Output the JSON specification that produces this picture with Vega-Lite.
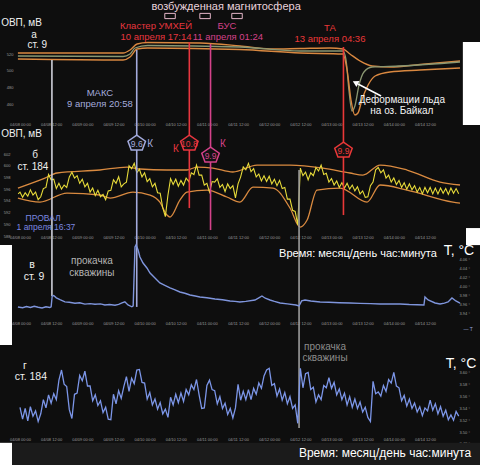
{
  "$schema": "https://vega.github.io/schema/vega-lite/v6.json",
  "width": 480,
  "height": 465,
  "autosize": {"type": "none"},
  "padding": 0,
  "background": "#0e0e0e",
  "config": {
    "view": {"stroke": null},
    "axis": {"domain": false, "ticks": false, "grid": false, "labelFontSize": 4, "labelColor": "#9c9c9c", "labelPadding": 1, "labelFont": "Liberation Sans", "labelOverlap": false, "labelFlush": false, "labelBound": false},
    "text": {"font": "Liberation Sans", "baseline": "middle", "align": "center"}
  },
  "datasets": {
    "aPage": [{"h":170.6,"h2":177.2,"v":534.4,"v2":434.8}],
    "bPage": [{"h":171.8,"h2":177.2,"v":589.36,"v2":586.45}],
    "cPage": [{"h":-7.7,"h2":-3.08,"v":4.0934,"v2":3.8712}],
    "dPage": [{"h":-7.7,"h2":-3.08,"v":3.482,"v2":3.4445}],
    "dBand": [{"h":-3.08,"h2":177.2,"v":3.482,"v2":3.4445}],
    "aUp": [{"h":-0.8,"v":521.2},{"h":39.7,"v":521.2},{"h":42.4,"v":524.8},{"h":45.1,"v":532.0},{"h":49.2,"v":533.8},{"h":69.3,"v":533.2},{"h":84.7,"v":529.6},{"h":96.3,"v":526.0},{"h":107.9,"v":526.6},{"h":119.4,"v":527.2},{"h":124.4,"v":526.0},{"h":127.1,"v":520.0},{"h":131.0,"v":511.6},{"h":135.6,"v":505.6},{"h":142.5,"v":504.4},{"h":154.1,"v":507.4},{"h":169.5,"v":511.6}],
    "aMid": [{"h":-0.8,"v":517.6},{"h":39.7,"v":517.0},{"h":42.4,"v":520.0},{"h":44.3,"v":527.2},{"h":49.2,"v":530.2},{"h":84.7,"v":528.4},{"h":107.9,"v":523.6},{"h":124.4,"v":523.6},{"h":125.6,"v":512.8},{"h":126.7,"v":476.8},{"h":127.9,"v":451.6},{"h":129.0,"v":457.6},{"h":130.6,"v":482.8},{"h":132.5,"v":498.4},{"h":135.6,"v":504.4},{"h":146.4,"v":505.6},{"h":169.5,"v":510.4}],
    "aLow": [{"h":-0.8,"v":514.0},{"h":39.7,"v":512.8},{"h":42.4,"v":516.4},{"h":45.1,"v":526.0},{"h":49.2,"v":527.2},{"h":84.7,"v":525.4},{"h":107.9,"v":521.2},{"h":124.4,"v":520.0},{"h":126.0,"v":500.8},{"h":127.5,"v":464.8},{"h":129.0,"v":446.8},{"h":130.2,"v":449.2},{"h":131.7,"v":464.8},{"h":134.1,"v":482.8},{"h":136.8,"v":493.6},{"h":142.5,"v":498.4},{"h":154.1,"v":500.8},{"h":169.5,"v":503.2}],
    "aEv": [{"ev":"ПРОВАЛ","h":12.3,"v":512.8,"v2":434.8},{"ev":"МАКС","h":44.97,"v":524.8,"v2":434.8},{"ev":"Кластер УМХЕЙ","h":65.23,"v":534.4,"v2":434.8},{"ev":"БУС","h":73.4,"v":532.0,"v2":434.8},{"ev":"ТА","h":124.6,"v":528.4,"v2":434.8}],
    "aBox": [{"h":57.8,"v":565.6},{"h":71.3,"v":565.6},{"h":83.6,"v":565.6}],
    "aArrow": [{"h":139.1,"v":469.6,"h2":130.2,"v2":484.0}],
    "aHead": [{"h":129.2,"v":485.6}],
    "aTx": [
      {"ev":"panel","t":"ОВП, мВ","h":0.6,"v":557.4},
      {"ev":"panel","t":"а","h":5.4,"v":542.8},
      {"ev":"panel","t":"ст. 9","h":6.7,"v":531.0},
      {"ev":"магнитосфера","t":"возбужденная магнитосфера","h":79.4,"v":576.4},
      {"ev":"Кластер УМХЕЙ","t":"Кластер УМХЕЙ","h":52.4,"v":554.2},
      {"ev":"Кластер УМХЕЙ","t":"10 апреля 17:14","h":52.4,"v":541.0},
      {"ev":"БУС","t":"БУС","h":79.7,"v":554.2},
      {"ev":"БУС","t":"11 апреля 01:24","h":80.1,"v":541.0},
      {"ev":"ТА","t":"ТА","h":119.4,"v":551.8},
      {"ev":"ТА","t":"13 апреля 04:36","h":119.4,"v":538.6},
      {"ev":"МАКС","t":"МАКС","h":30.8,"v":473.8},
      {"ev":"МАКС","t":"9 апреля 20:58","h":30.8,"v":460.6},
      {"ev":"лёд","t":"Деформации льда","h":147.1,"v":465.4},
      {"ev":"лёд","t":"на оз. Байкал","h":147.1,"v":452.2}
    ],
    "bY": [{"h":-0.7,"v":595.2},{"h":0,"v":595.5},{"h":1,"v":594.6},{"h":2,"v":595.4},{"h":3,"v":594.8},{"h":4,"v":595.9},{"h":5,"v":595.0},{"h":6,"v":595.5},{"h":7,"v":594.2},{"h":8,"v":594.7},{"h":9,"v":596.1},{"h":10,"v":596.3},{"h":11,"v":598.5},{"h":12,"v":597.6},{"h":13,"v":597.7},{"h":14,"v":596.1},{"h":15,"v":597.0},{"h":16,"v":596.0},{"h":17,"v":596.7},{"h":18,"v":596.3},{"h":19,"v":598.1},{"h":20,"v":598.9},{"h":21,"v":597.9},{"h":22,"v":598.3},{"h":23,"v":597.0},{"h":24,"v":597.7},{"h":25,"v":596.4},{"h":26,"v":597.0},{"h":27,"v":595.5},{"h":28,"v":596.2},{"h":29,"v":594.9},{"h":30,"v":595.8},{"h":31,"v":594.7},{"h":32,"v":595.1},{"h":33,"v":594.2},{"h":34,"v":595.7},{"h":35,"v":595.8},{"h":36,"v":597.6},{"h":37,"v":597.0},{"h":38,"v":598.1},{"h":39,"v":596.4},{"h":40,"v":596.9},{"h":41,"v":597.2},{"h":42,"v":600.0},{"h":43,"v":599.5},{"h":44,"v":600.4},{"h":45,"v":598.8},{"h":46,"v":599.4},{"h":47,"v":598.1},{"h":48,"v":598.8},{"h":49,"v":597.3},{"h":50,"v":597.8},{"h":51,"v":596.4},{"h":52,"v":597.0},{"h":53,"v":595.4},{"h":54,"v":595.3},{"h":55,"v":592.8},{"h":56,"v":591.3},{"h":57,"v":595.0},{"h":58,"v":597.8},{"h":59,"v":596.8},{"h":60,"v":597.7},{"h":61,"v":596.5},{"h":62,"v":597.5},{"h":63,"v":596.7},{"h":64,"v":597.9},{"h":65,"v":597.3},{"h":66,"v":598.8},{"h":67,"v":598.5},{"h":68,"v":600.1},{"h":69,"v":598.4},{"h":70,"v":598.4},{"h":71,"v":596.7},{"h":72,"v":597.0},{"h":73,"v":595.5},{"h":74,"v":597.3},{"h":75,"v":597.2},{"h":76,"v":597.8},{"h":77,"v":596.3},{"h":78,"v":596.8},{"h":79,"v":595.6},{"h":80,"v":596.9},{"h":81,"v":596.1},{"h":82,"v":596.6},{"h":83,"v":594.5},{"h":84,"v":596.9},{"h":85,"v":598.1},{"h":86,"v":599.8},{"h":87,"v":599.3},{"h":88,"v":600.4},{"h":89,"v":599.0},{"h":90,"v":599.5},{"h":91,"v":598.1},{"h":92,"v":598.6},{"h":93,"v":597.4},{"h":94,"v":598.3},{"h":95,"v":597.3},{"h":96,"v":598.2},{"h":97,"v":596.9},{"h":98,"v":597.7},{"h":99,"v":596.6},{"h":100,"v":597.5},{"h":101,"v":596.1},{"h":102,"v":596.3},{"h":103,"v":594.3},{"h":104,"v":594.3},{"h":105,"v":592.4},{"h":106,"v":592.2},{"h":107,"v":589.9},{"h":108,"v":599.6},{"h":109,"v":598.3},{"h":110,"v":598.9},{"h":111,"v":597.6},{"h":112,"v":598.8},{"h":113,"v":598.3},{"h":114,"v":599.7},{"h":115,"v":599.1},{"h":116,"v":600.1},{"h":117,"v":598.5},{"h":118,"v":598.7},{"h":119,"v":597.2},{"h":120,"v":597.8},{"h":121,"v":596.7},{"h":122,"v":597.4},{"h":123,"v":596.3},{"h":124,"v":597.1},{"h":125,"v":596.2},{"h":126,"v":597.0},{"h":127,"v":596.0},{"h":128,"v":596.7},{"h":129,"v":595.7},{"h":130,"v":596.4},{"h":131,"v":595.2},{"h":132,"v":595.7},{"h":133,"v":594.6},{"h":134,"v":594.7},{"h":135,"v":596.6},{"h":136,"v":597.2},{"h":137,"v":599.3},{"h":138,"v":599.7},{"h":139,"v":598.8},{"h":140,"v":599.3},{"h":141,"v":597.9},{"h":142,"v":598.4},{"h":143,"v":597.2},{"h":144,"v":597.9},{"h":145,"v":596.8},{"h":146,"v":597.5},{"h":147,"v":596.3},{"h":148,"v":597.1},{"h":149,"v":596.0},{"h":150,"v":596.9},{"h":151,"v":595.9},{"h":152,"v":596.6},{"h":153,"v":595.5},{"h":154,"v":596.3},{"h":155,"v":595.2},{"h":156,"v":596.3},{"h":157,"v":595.4},{"h":158,"v":596.3},{"h":159,"v":595.2},{"h":160,"v":596.2},{"h":161,"v":595.2},{"h":162,"v":596.2},{"h":163,"v":595.3},{"h":164,"v":596.1},{"h":165,"v":595.1},{"h":166,"v":596.2},{"h":167,"v":595.3},{"h":168,"v":596.1},{"h":169,"v":595.2}],
    "bUp": [{"h":-0.8,"v":596.19},{"h":9.6,"v":597.9},{"h":14.3,"v":598.76},{"h":30.8,"v":599.27},{"h":41.2,"v":599.78},{"h":46.2,"v":599.44},{"h":56.6,"v":599.27},{"h":64.3,"v":599.27},{"h":68.2,"v":599.78},{"h":74.3,"v":599.61},{"h":82.0,"v":598.93},{"h":91.3,"v":600.12},{"h":104.0,"v":600.12},{"h":116.7,"v":599.61},{"h":127.1,"v":598.76},{"h":132.1,"v":598.41},{"h":138.7,"v":600.12},{"h":149.1,"v":599.27},{"h":161.8,"v":597.22},{"h":169.5,"v":596.71}],
    "bLow": [{"h":-0.8,"v":594.48},{"h":7.7,"v":593.8},{"h":18.1,"v":595.34},{"h":30.8,"v":595.0},{"h":34.7,"v":594.48},{"h":43.5,"v":595.51},{"h":50.1,"v":595.0},{"h":53.9,"v":593.8},{"h":56.6,"v":591.58},{"h":57.8,"v":591.24},{"h":61.6,"v":594.14},{"h":64.3,"v":595.51},{"h":72.0,"v":595.85},{"h":79.7,"v":594.66},{"h":84.7,"v":593.8},{"h":89.75,"v":596.36},{"h":97.5,"v":596.19},{"h":104.0,"v":592.78},{"h":107.9,"v":589.53},{"h":110.6,"v":590.73},{"h":114.4,"v":595.85},{"h":123.3,"v":596.19},{"h":133.7,"v":593.8},{"h":138.7,"v":596.71},{"h":149.1,"v":595.85},{"h":166.8,"v":593.8},{"h":169.5,"v":593.63}],
    "bEv": [{"ev":"ПРОВАЛ","h":12.3,"v":606.95,"v2":587.65},{"ev":"МАКС","h":44.97,"v":606.95,"v2":587.65},{"ev":"Кластер УМХЕЙ","h":65.23,"v":606.95,"v2":592.77},{"ev":"БУС","h":73.4,"v":606.95,"v2":589.02},{"ev":"ТА","h":124.6,"v":606.95,"v2":591.58},{"ev":"прокачка","h":107.5,"v":599.26,"v2":587.65}],
    "bPent": [{"ev":"МАКС","t":"9.6","h":44.97,"v":603.88},{"ev":"Кластер УМХЕЙ","t":"10.8","h":65.23,"v":603.88},{"ev":"БУС","t":"9.9","h":73.4,"v":601.83},{"ev":"ТА","t":"9.9","h":124.6,"v":602.68}],
    "bK": [{"ev":"МАКС","t":"К","h":50.1,"v":603.7},{"ev":"Кластер УМХЕЙ","t":"К","h":60.1,"v":602.85},{"ev":"БУС","t":"К","h":78.2,"v":603.7}],
    "bTx": [
      {"ev":"panel","t":"ОВП, мВ","h":0.6,"v":605.4},
      {"ev":"panel","t":"б","h":5.8,"v":601.75},
      {"ev":"panel","t":"ст. 184","h":5.0,"v":599.7},
      {"ev":"ПРОВАЛ","t":"ПРОВАЛ","h":8.9,"v":591.06},
      {"ev":"ПРОВАЛ","t":"1 апреля 16:37","h":10.0,"v":589.53}
    ],
    "cT": [{"h":-0.8,"v":3.9556},{"h":1.0,"v":3.954},{"h":2.5,"v":3.9565},{"h":4.0,"v":3.9545},{"h":5.5,"v":3.957},{"h":7.0,"v":3.955},{"h":8.5,"v":3.9535},{"h":10.0,"v":3.956},{"h":11.5,"v":3.9545},{"h":12.0,"v":3.956},{"h":12.4,"v":3.98},{"h":13.0,"v":3.981},{"h":14.0,"v":3.976},{"h":15.4,"v":3.972},{"h":17.3,"v":3.967},{"h":19.0,"v":3.966},{"h":21.2,"v":3.964},{"h":23.0,"v":3.965},{"h":25.0,"v":3.962},{"h":27.0,"v":3.963},{"h":28.9,"v":3.9615},{"h":31.0,"v":3.9625},{"h":32.7,"v":3.96},{"h":34.5,"v":3.961},{"h":36.6,"v":3.9595},{"h":38.0,"v":3.9615},{"h":39.3,"v":3.9645},{"h":40.4,"v":3.967},{"h":41.6,"v":3.96},{"h":43.1,"v":3.956},{"h":43.6,"v":3.958},{"h":44.3,"v":4.0889},{"h":44.7,"v":4.0933},{"h":45.5,"v":4.0822},{"h":46.2,"v":4.0667},{"h":47.4,"v":4.0533},{"h":48.9,"v":4.0422},{"h":50.1,"v":4.0311},{"h":52.0,"v":4.02},{"h":53.9,"v":4.0089},{"h":56.0,"v":4.003},{"h":57.8,"v":3.9978},{"h":59.5,"v":3.994},{"h":61.6,"v":3.9889},{"h":63.5,"v":3.986},{"h":65.5,"v":3.9822},{"h":67.5,"v":3.98},{"h":69.3,"v":3.9778},{"h":72.0,"v":3.976},{"h":75.1,"v":3.9733},{"h":78.0,"v":3.9715},{"h":80.9,"v":3.9689},{"h":82.8,"v":3.968},{"h":84.7,"v":3.9667},{"h":87.0,"v":3.968},{"h":90.5,"v":3.9711},{"h":92.0,"v":3.976},{"h":93.2,"v":3.98},{"h":94.5,"v":3.975},{"h":96.3,"v":3.9711},{"h":98.0,"v":3.968},{"h":100.2,"v":3.9644},{"h":103.0,"v":3.9625},{"h":106.3,"v":3.96},{"h":107.5,"v":3.9578},{"h":108.5,"v":3.969},{"h":109.8,"v":3.9711},{"h":112.0,"v":3.969},{"h":115.6,"v":3.9667},{"h":119.0,"v":3.966},{"h":123.0,"v":3.965},{"h":127.1,"v":3.9644},{"h":131.0,"v":3.9635},{"h":135.0,"v":3.963},{"h":138.7,"v":3.9622},{"h":142.5,"v":3.9625},{"h":146.4,"v":3.9622},{"h":150.0,"v":3.961},{"h":153.0,"v":3.9605},{"h":155.6,"v":3.96},{"h":156.0,"v":3.9778},{"h":157.2,"v":3.9711},{"h":159.9,"v":3.9644},{"h":161.8,"v":3.9622},{"h":163.5,"v":3.964},{"h":164.9,"v":3.9667},{"h":166.4,"v":3.9756},{"h":167.9,"v":3.9689},{"h":169.5,"v":3.9644}],
    "cEv": [{"ev":"ПРОВАЛ","h":12.3,"v":4.109,"v2":3.98},{"ev":"МАКС","h":44.97,"v":4.109,"v2":3.9557},{"ev":"прокачка","h":107.5,"v":4.109,"v2":3.8712}],
    "cTx": [
      {"ev":"panel","t":"в","h":4.6,"v":4.049},
      {"ev":"panel","t":"ст. 9","h":5.4,"v":4.0223},
      {"ev":"прокачка","t":"прокачка","h":27.7,"v":4.0578},
      {"ev":"прокачка","t":"скважины","h":27.7,"v":4.0311},
      {"ev":"unit","t":"T, °C","h":169.1,"v":4.08},
      {"ev":"time","t":"Время: месяц/день час:минута","h":130.2,"v":4.0734},
      {"ev":"legend","t":"— T","h":172.6,"v":3.9068}
    ],
    "dT": [{"h":0,"v":3.542},{"h":1,"v":3.522},{"h":2,"v":3.54},{"h":3,"v":3.519},{"h":4,"v":3.543},{"h":5,"v":3.527},{"h":6,"v":3.536},{"h":7,"v":3.518},{"h":8,"v":3.531},{"h":9,"v":3.555},{"h":10,"v":3.541},{"h":11,"v":3.563},{"h":12,"v":3.549},{"h":13,"v":3.565},{"h":14,"v":3.555},{"h":15,"v":3.588},{"h":16,"v":3.605},{"h":17,"v":3.581},{"h":18,"v":3.577},{"h":19,"v":3.538},{"h":20,"v":3.523},{"h":21,"v":3.564},{"h":22,"v":3.566},{"h":23,"v":3.596},{"h":24,"v":3.587},{"h":25,"v":3.603},{"h":26,"v":3.578},{"h":27,"v":3.578},{"h":28,"v":3.553},{"h":29,"v":3.563},{"h":30,"v":3.545},{"h":31,"v":3.553},{"h":32,"v":3.533},{"h":33,"v":3.542},{"h":34,"v":3.522},{"h":35,"v":3.521},{"h":36,"v":3.564},{"h":37,"v":3.548},{"h":38,"v":3.57},{"h":39,"v":3.557},{"h":40,"v":3.577},{"h":41,"v":3.594},{"h":42,"v":3.569},{"h":43,"v":3.591},{"h":44,"v":3.582},{"h":45,"v":3.605},{"h":46,"v":3.606},{"h":47,"v":3.584},{"h":48,"v":3.583},{"h":49,"v":3.556},{"h":50,"v":3.567},{"h":51,"v":3.546},{"h":52,"v":3.556},{"h":53,"v":3.539},{"h":54,"v":3.55},{"h":55,"v":3.531},{"h":56,"v":3.539},{"h":57,"v":3.525},{"h":58,"v":3.559},{"h":59,"v":3.546},{"h":60,"v":3.564},{"h":61,"v":3.55},{"h":62,"v":3.566},{"h":63,"v":3.552},{"h":64,"v":3.572},{"h":65,"v":3.563},{"h":66,"v":3.58},{"h":67,"v":3.572},{"h":68,"v":3.589},{"h":69,"v":3.563},{"h":70,"v":3.54},{"h":71,"v":3.541},{"h":72,"v":3.579},{"h":73,"v":3.588},{"h":74,"v":3.572},{"h":75,"v":3.57},{"h":76,"v":3.548},{"h":77,"v":3.56},{"h":78,"v":3.54},{"h":79,"v":3.549},{"h":80,"v":3.53},{"h":81,"v":3.54},{"h":82,"v":3.524},{"h":83,"v":3.541},{"h":84,"v":3.581},{"h":85,"v":3.554},{"h":86,"v":3.569},{"h":87,"v":3.555},{"h":88,"v":3.572},{"h":89,"v":3.555},{"h":90,"v":3.574},{"h":91,"v":3.564},{"h":92,"v":3.583},{"h":93,"v":3.574},{"h":94,"v":3.595},{"h":95,"v":3.605},{"h":96,"v":3.608},{"h":97,"v":3.579},{"h":98,"v":3.582},{"h":99,"v":3.561},{"h":100,"v":3.573},{"h":101,"v":3.554},{"h":102,"v":3.567},{"h":103,"v":3.548},{"h":104,"v":3.56},{"h":105,"v":3.54},{"h":106,"v":3.546},{"h":107,"v":3.515},{"h":108,"v":3.608},{"h":109,"v":3.575},{"h":110,"v":3.599},{"h":111,"v":3.601},{"h":112,"v":3.572},{"h":113,"v":3.576},{"h":114,"v":3.551},{"h":115,"v":3.563},{"h":116,"v":3.555},{"h":117,"v":3.579},{"h":118,"v":3.575},{"h":119,"v":3.592},{"h":120,"v":3.574},{"h":121,"v":3.584},{"h":122,"v":3.563},{"h":123,"v":3.573},{"h":124,"v":3.555},{"h":125,"v":3.566},{"h":126,"v":3.546},{"h":127,"v":3.56},{"h":128,"v":3.542},{"h":129,"v":3.556},{"h":130,"v":3.54},{"h":131,"v":3.551},{"h":132,"v":3.534},{"h":133,"v":3.542},{"h":134,"v":3.525},{"h":135,"v":3.518},{"h":136,"v":3.586},{"h":137,"v":3.565},{"h":138,"v":3.568},{"h":139,"v":3.561},{"h":140,"v":3.579},{"h":141,"v":3.569},{"h":142,"v":3.589},{"h":143,"v":3.583},{"h":144,"v":3.601},{"h":145,"v":3.578},{"h":146,"v":3.575},{"h":147,"v":3.553},{"h":148,"v":3.562},{"h":149,"v":3.544},{"h":150,"v":3.556},{"h":151,"v":3.54},{"h":152,"v":3.549},{"h":153,"v":3.534},{"h":154,"v":3.543},{"h":155,"v":3.528},{"h":156,"v":3.541},{"h":157,"v":3.536},{"h":158,"v":3.554},{"h":159,"v":3.537},{"h":160,"v":3.548},{"h":161,"v":3.531},{"h":162,"v":3.543},{"h":163,"v":3.527},{"h":164,"v":3.537},{"h":165,"v":3.521},{"h":166,"v":3.529},{"h":167,"v":3.52},{"h":168,"v":3.535},{"h":169,"v":3.527}],
    "dEv": [{"ev":"прокачка","h":107.5,"v":3.6474,"v2":3.5071}],
    "dTx": [
      {"ev":"panel","t":"г","h":1.9,"v":3.6119},
      {"ev":"panel","t":"ст. 184","h":4.2,"v":3.5933},
      {"ev":"прокачка","t":"прокачка","h":117.5,"v":3.644},
      {"ev":"прокачка","t":"скважины","h":117.5,"v":3.6254},
      {"ev":"unit","t":"T, °C","h":169.9,"v":3.6145},
      {"ev":"time","t":"Время: месяц/день час:минута","h":140.6,"v":3.4648}
    ]
  },
  "resolve": {"scale": {"y": "independent"}, "axis": {"x": "independent", "y": "independent"}},
  "layer": [
    {
      "encoding": {
        "x": {"field": "h", "type": "quantitative", "scale": {"domain": [-7.7, 177.2], "nice": false, "zero": false},
              "axis": {"title": null, "orient": "bottom", "offset": -344, "values": [0,12,24,36,48,60,72,84,96,108,120,132,144,156],
                       "labelExpr": "'04/' + (datum.value < 48 ? '0' : '') + (8 + floor(datum.value / 24)) + ' ' + (datum.value % 24 == 0 ? '00' : '12') + ':00'"}},
        "y": {"field": "v", "type": "quantitative", "scale": {"domain": [26.8, 584.8], "nice": false, "zero": false},
              "axis": {"title": null, "orient": "left", "offset": -14, "values": [520, 500, 480, 460]}}
      },
      "layer": [
        {"data": {"name": "aPage"}, "mark": {"type": "rect", "color": "#ffffff"}, "encoding": {"x2": {"field": "h2"}, "y2": {"field": "v2"}}},
        {"data": {"name": "aUp"}, "mark": {"type": "line", "color": "#d98840", "strokeWidth": 1.4, "interpolate": "monotone"}, "encoding": {}},
        {"data": {"name": "aMid"}, "mark": {"type": "line", "color": "#8a9772", "strokeWidth": 1.3, "interpolate": "monotone"}, "encoding": {}},
        {"data": {"name": "aLow"}, "mark": {"type": "line", "color": "#d98840", "strokeWidth": 1.4, "interpolate": "monotone"}, "encoding": {}},
        {"data": {"name": "aEv"}, "mark": {"type": "rule", "strokeWidth": 1.6},
         "encoding": {"y2": {"field": "v2"}, "color": {"field": "ev", "type": "nominal", "legend": null,
           "scale": {"domain": ["ПРОВАЛ","МАКС","Кластер УМХЕЙ","БУС","ТА","прокачка"], "range": ["#cfd0da","#a3aadc","#e8363f","#d4428a","#ea3838","#9c9c9c"]}}}},
        {"data": {"name": "aBox"}, "mark": {"type": "point", "shape": "M-1,-0.5H1V0.5H-1Z", "size": 110, "filled": false, "color": "#e4b6c8", "strokeWidth": 1, "opacity": 1}, "encoding": {}},
        {"data": {"name": "aArrow"}, "mark": {"type": "rule", "color": "#ffffff", "strokeWidth": 1.5}, "encoding": {"x2": {"field": "h2"}, "y2": {"field": "v2"}}},
        {"data": {"name": "aHead"}, "mark": {"type": "point", "shape": "triangle-up", "size": 45, "filled": true, "color": "#ffffff", "angle": 297, "opacity": 1}, "encoding": {}},
        {"data": {"name": "aTx"}, "transform": [{"filter": "datum.ev == 'panel'"}], "mark": {"type": "text", "color": "#f0f0f0", "fontSize": 10}, "encoding": {"text": {"field": "t"}}},
        {"data": {"name": "aTx"}, "transform": [{"filter": "datum.ev == 'лёд'"}], "mark": {"type": "text", "color": "#f4f4f4", "fontSize": 10}, "encoding": {"text": {"field": "t"}}},
        {"data": {"name": "aTx"}, "transform": [{"filter": "datum.ev == 'магнитосфера'"}], "mark": {"type": "text", "color": "#e9d3dc", "fontSize": 11}, "encoding": {"text": {"field": "t"}}},
        {"data": {"name": "aTx"}, "transform": [{"filter": "indexof(['Кластер УМХЕЙ','БУС','ТА','МАКС'], datum.ev) >= 0"}], "mark": {"type": "text", "fontSize": 9.5},
         "encoding": {"text": {"field": "t"}, "color": {"field": "ev", "type": "nominal", "legend": null,
           "scale": {"domain": ["ПРОВАЛ","МАКС","Кластер УМХЕЙ","БУС","ТА","прокачка"], "range": ["#cfd0da","#a3aadc","#e8363f","#d4428a","#ea3838","#9c9c9c"]}}}}
      ]
    },
    {
      "encoding": {
        "x": {"field": "h", "type": "quantitative", "scale": {"domain": [-7.7, 177.2], "nice": false, "zero": false},
              "axis": {"title": null, "orient": "bottom", "offset": -231, "values": [0,12,24,36,48,60,72,84,96,108,120,132,144,156],
                       "labelExpr": "'04/' + (datum.value < 48 ? '0' : '') + (8 + floor(datum.value / 24)) + ' ' + (datum.value % 24 == 0 ? '00' : '12') + ':00'"}},
        "y": {"field": "v", "type": "quantitative", "scale": {"domain": [548.9, 628.3], "nice": false, "zero": false},
              "axis": {"title": null, "orient": "left", "offset": -11, "values": [602, 600, 598, 596, 594, 592, 590, 588]}}
      },
      "layer": [
        {"data": {"name": "bPage"}, "mark": {"type": "rect", "color": "#ffffff"}, "encoding": {"x2": {"field": "h2"}, "y2": {"field": "v2"}}},
        {"data": {"name": "bUp"}, "mark": {"type": "line", "color": "#d98a40", "strokeWidth": 1.3, "interpolate": "monotone"}, "encoding": {}},
        {"data": {"name": "bLow"}, "mark": {"type": "line", "color": "#d98a40", "strokeWidth": 1.3, "interpolate": "monotone"}, "encoding": {}},
        {"data": {"name": "bY"}, "mark": {"type": "line", "color": "#e8dc3a", "strokeWidth": 1.1}, "encoding": {}},
        {"data": {"name": "bEv"}, "mark": {"type": "rule", "strokeWidth": 1.6},
         "encoding": {"y2": {"field": "v2"}, "color": {"field": "ev", "type": "nominal", "legend": null,
           "scale": {"domain": ["ПРОВАЛ","МАКС","Кластер УМХЕЙ","БУС","ТА","прокачка"], "range": ["#cfd0da","#a3aadc","#e8363f","#d4428a","#ea3838","#9c9c9c"]}}}},
        {"data": {"name": "bPent"}, "mark": {"type": "point", "shape": "M0,-0.85L0.95,-0.2L0.6,0.75L-0.6,0.75L-0.95,-0.2Z", "size": 340, "filled": true, "fill": "#121212", "fillOpacity": 1, "strokeWidth": 1.5, "opacity": 1},
         "encoding": {"stroke": {"field": "ev", "type": "nominal", "legend": null,
           "scale": {"domain": ["ПРОВАЛ","МАКС","Кластер УМХЕЙ","БУС","ТА","прокачка"], "range": ["#cfd0da","#a3aadc","#e8363f","#d4428a","#ea3838","#9c9c9c"]}}}},
        {"data": {"name": "bPent"}, "mark": {"type": "text", "fontSize": 8.5, "dy": 1},
         "encoding": {"text": {"field": "t"}, "color": {"field": "ev", "type": "nominal", "legend": null,
           "scale": {"domain": ["ПРОВАЛ","МАКС","Кластер УМХЕЙ","БУС","ТА","прокачка"], "range": ["#cfd0da","#a3aadc","#e8363f","#d4428a","#ea3838","#9c9c9c"]}}}},
        {"data": {"name": "bK"}, "mark": {"type": "text", "fontSize": 10},
         "encoding": {"text": {"field": "t"}, "color": {"field": "ev", "type": "nominal", "legend": null,
           "scale": {"domain": ["ПРОВАЛ","МАКС","Кластер УМХЕЙ","БУС","ТА","прокачка"], "range": ["#cfd0da","#a3aadc","#e8363f","#d4428a","#ea3838","#9c9c9c"]}}}},
        {"data": {"name": "bTx"}, "transform": [{"filter": "datum.ev == 'panel'"}], "mark": {"type": "text", "color": "#f0f0f0", "fontSize": 10}, "encoding": {"text": {"field": "t"}}},
        {"data": {"name": "bTx"}, "transform": [{"filter": "datum.ev == 'ПРОВАЛ'"}], "mark": {"type": "text", "color": "#7b88e0", "fontSize": 8.5}, "encoding": {"text": {"field": "t"}}}
      ]
    },
    {
      "encoding": {
        "x": {"field": "h", "type": "quantitative", "scale": {"domain": [-7.7, 177.2], "nice": false, "zero": false},
              "axis": {"title": null, "orient": "bottom", "offset": -145, "values": [0,12,24,36,48,60,72,84,96,108,120,132,144,156],
                       "labelExpr": "'04/' + (datum.value < 48 ? '0' : '') + (8 + floor(datum.value / 24)) + ' ' + (datum.value % 24 == 0 ? '00' : '12') + ':00'"}},
        "y": {"field": "v", "type": "quantitative", "scale": {"domain": [3.6044, 4.6378], "nice": false, "zero": false},
              "axis": {"title": null, "orient": "right", "offset": -22, "values": [4.06, 4.04, 4.02, 4.0, 3.98, 3.96, 3.94], "labelExpr": "format(datum.value, '.2f') + ' °'"}}
      },
      "layer": [
        {"data": {"name": "cPage"}, "mark": {"type": "rect", "color": "#ffffff"}, "encoding": {"x2": {"field": "h2"}, "y2": {"field": "v2"}}},
        {"data": {"name": "cEv"}, "mark": {"type": "rule", "strokeWidth": 1.6},
         "encoding": {"y2": {"field": "v2"}, "color": {"field": "ev", "type": "nominal", "legend": null,
           "scale": {"domain": ["ПРОВАЛ","МАКС","Кластер УМХЕЙ","БУС","ТА","прокачка"], "range": ["#cfd0da","#a3aadc","#e8363f","#d4428a","#ea3838","#9c9c9c"]}}}},
        {"data": {"name": "cT"}, "mark": {"type": "line", "color": "#7f95dc", "strokeWidth": 1.4}, "encoding": {}},
        {"data": {"name": "cTx"}, "transform": [{"filter": "datum.ev == 'panel'"}], "mark": {"type": "text", "color": "#f0f0f0", "fontSize": 10.5}, "encoding": {"text": {"field": "t"}}},
        {"data": {"name": "cTx"}, "transform": [{"filter": "datum.ev == 'прокачка'"}], "mark": {"type": "text", "color": "#b4b4b4", "fontSize": 10}, "encoding": {"text": {"field": "t"}}},
        {"data": {"name": "cTx"}, "transform": [{"filter": "datum.ev == 'unit'"}], "mark": {"type": "text", "color": "#ffffff", "fontSize": 14}, "encoding": {"text": {"field": "t"}}},
        {"data": {"name": "cTx"}, "transform": [{"filter": "datum.ev == 'time'"}], "mark": {"type": "text", "color": "#ffffff", "fontSize": 11}, "encoding": {"text": {"field": "t"}}},
        {"data": {"name": "cTx"}, "transform": [{"filter": "datum.ev == 'legend'"}], "mark": {"type": "text", "color": "#98a6dc", "fontSize": 5}, "encoding": {"text": {"field": "t"}}}
      ]
    },
    {
      "encoding": {
        "x": {"field": "h", "type": "quantitative", "scale": {"domain": [-7.7, 177.2], "nice": false, "zero": false},
              "axis": {"title": null, "orient": "bottom", "offset": -29, "values": [0,12,24,36,48,60,72,84,96,108,120,132,144,156],
                       "labelExpr": "'04/' + (datum.value < 48 ? '0' : '') + (8 + floor(datum.value / 24)) + ' ' + (datum.value % 24 == 0 ? '00' : '12') + ':00'"}},
        "y": {"field": "v", "type": "quantitative", "scale": {"domain": [3.4445, 4.2304], "nice": false, "zero": false},
              "axis": {"title": null, "orient": "right", "offset": -22, "values": [3.6, 3.58, 3.56, 3.54, 3.52, 3.5, 3.48], "labelExpr": "format(datum.value, '.2f') + ' °'"}}
      },
      "layer": [
        {"data": {"name": "dBand"}, "mark": {"type": "rect", "color": "#1b1b1b"}, "encoding": {"x2": {"field": "h2"}, "y2": {"field": "v2"}}},
        {"data": {"name": "dPage"}, "mark": {"type": "rect", "color": "#ffffff"}, "encoding": {"x2": {"field": "h2"}, "y2": {"field": "v2"}}},
        {"data": {"name": "dEv"}, "mark": {"type": "rule", "strokeWidth": 1.6},
         "encoding": {"y2": {"field": "v2"}, "color": {"field": "ev", "type": "nominal", "legend": null,
           "scale": {"domain": ["ПРОВАЛ","МАКС","Кластер УМХЕЙ","БУС","ТА","прокачка"], "range": ["#cfd0da","#a3aadc","#e8363f","#d4428a","#ea3838","#9c9c9c"]}}}},
        {"data": {"name": "dT"}, "mark": {"type": "line", "color": "#7c96e8", "strokeWidth": 1.3}, "encoding": {}},
        {"data": {"name": "dTx"}, "transform": [{"filter": "datum.ev == 'panel'"}], "mark": {"type": "text", "color": "#f0f0f0", "fontSize": 10.5}, "encoding": {"text": {"field": "t"}}},
        {"data": {"name": "dTx"}, "transform": [{"filter": "datum.ev == 'прокачка'"}], "mark": {"type": "text", "color": "#8c8c8c", "fontSize": 10}, "encoding": {"text": {"field": "t"}}},
        {"data": {"name": "dTx"}, "transform": [{"filter": "datum.ev == 'unit'"}], "mark": {"type": "text", "color": "#ffffff", "fontSize": 14}, "encoding": {"text": {"field": "t"}}},
        {"data": {"name": "dTx"}, "transform": [{"filter": "datum.ev == 'time'"}], "mark": {"type": "text", "color": "#ffffff", "fontSize": 12}, "encoding": {"text": {"field": "t"}}}
      ]
    }
  ]
}
